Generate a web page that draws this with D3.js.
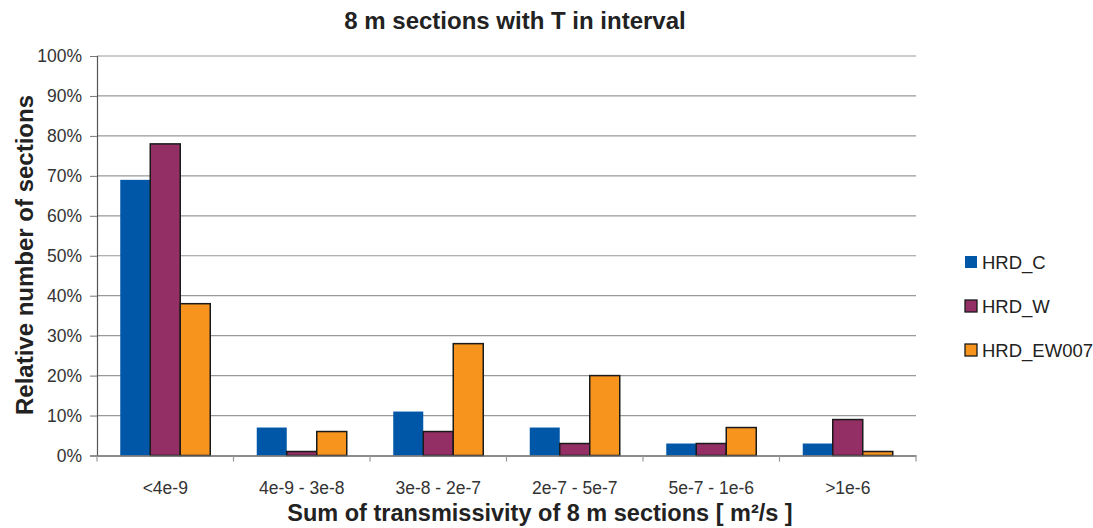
<!DOCTYPE html>
<html><head><meta charset="utf-8">
<script src="https://cdn.jsdelivr.net/npm/d3@7/dist/d3.min.js"></script>
<style>body{margin:0;background:#fff}svg{display:block}text{font-family:"Liberation Sans",Arial,sans-serif}</style>
</head><body>
<svg id="c" width="1093" height="528"></svg>
<script>
const categories = ["<4e-9","4e-9 - 3e-8","3e-8 - 2e-7","2e-7 - 5e-7","5e-7 - 1e-6",">1e-6"];
const seriesNames = ["HRD_C","HRD_W","HRD_EW007"];
const hrdC = [69, 7, 11, 7, 3, 3];
const hrdW = [78, 1, 6, 3, 3, 9];
const hrdEW007 = [38, 6, 28, 20, 7, 1];
const yTicks = [0,10,20,30,40,50,60,70,80,90,100];
const colors = ["#0057A8","#932F65","#F7941E"];
const strokes = [null,"#1a1a1a","#1a1a1a"];
const values = [hrdC, hrdW, hrdEW007];

const svg = d3.select("#c");
const L = 97, R = 916, T = 56, B = 455.5;
const x = d3.scaleBand().domain(categories).range([L, R]).paddingInner(0).paddingOuter(0);
const y = d3.scaleLinear().domain([0,100]).range([B, T]);
const inner = d3.scaleBand().domain(seriesNames).range([0, 90]);
const gOff = (x.bandwidth() - 90) / 2;

// gridlines
svg.append("g").selectAll("line").data(yTicks.filter(d=>d>0)).join("line")
  .attr("x1", L).attr("x2", R).attr("y1", d=>y(d)).attr("y2", d=>y(d))
  .attr("stroke", "#999").attr("stroke-width", 1.2);

// bars
seriesNames.forEach((s, si) => {
  svg.append("g").selectAll("rect").data(categories).join("rect")
    .attr("x", (c)=> x(c) + gOff + inner(s))
    .attr("y", (c,i)=> y(values[si][i]))
    .attr("width", inner.bandwidth())
    .attr("height", (c,i)=> B - y(values[si][i]))
    .attr("fill", colors[si])
    .attr("stroke", strokes[si] || "none")
    .attr("stroke-width", 1.5);
});

// y axis
const yAxis = d3.axisLeft(y).tickValues(yTicks).tickFormat(d=>d+"%").tickSize(7).tickPadding(8);
const ya = svg.append("g").attr("transform", `translate(${L},0)`).call(yAxis);
ya.select(".domain").attr("stroke", "#555").attr("stroke-width", 1.2);
ya.selectAll(".tick line").attr("stroke", "#777");
ya.selectAll("text").attr("font-size", 17.5).attr("fill", "#333");

// x axis
const xa = svg.append("g").attr("transform", `translate(0,${B})`).call(d3.axisBottom(x).tickSize(0).tickPadding(26));
xa.select(".domain").attr("stroke", "#666").attr("stroke-width", 1.5);
xa.selectAll("text").attr("font-size", 17.5).attr("fill", "#333");
const bounds = categories.map(c=>x(c)).concat([R]);
svg.append("g").selectAll("line").data(bounds).join("line")
  .attr("x1", d=>d).attr("x2", d=>d).attr("y1", B).attr("y2", B+6)
  .attr("stroke", "#999").attr("stroke-width", 1.2);

// titles
svg.append("text").attr("x", 515).attr("y", 29).attr("text-anchor","middle")
  .attr("font-size", 24).attr("font-weight","bold").attr("fill","#222").text("8 m sections with T in interval");
svg.append("text").attr("x", 540).attr("y", 521).attr("text-anchor","middle")
  .attr("font-size", 23.5).attr("font-weight","bold").attr("fill","#222").text("Sum of transmissivity of 8 m sections [ m²/s ]");
svg.append("text").attr("transform","translate(33,255) rotate(-90)").attr("text-anchor","middle")
  .attr("font-size", 24).attr("font-weight","bold").attr("fill","#222").text("Relative number of sections");

// legend
const ly = [262, 306, 350];
seriesNames.forEach((s, si) => {
  svg.append("rect").attr("x", 965).attr("y", ly[si]-6).attr("width", 12).attr("height", 12)
    .attr("fill", colors[si]).attr("stroke", strokes[si] || "none").attr("stroke-width", 1.3);
  svg.append("text").attr("x", 982).attr("y", ly[si]+6.5).attr("font-size", 18.5).attr("fill","#222").text(s);
});
</script>
</body></html>
